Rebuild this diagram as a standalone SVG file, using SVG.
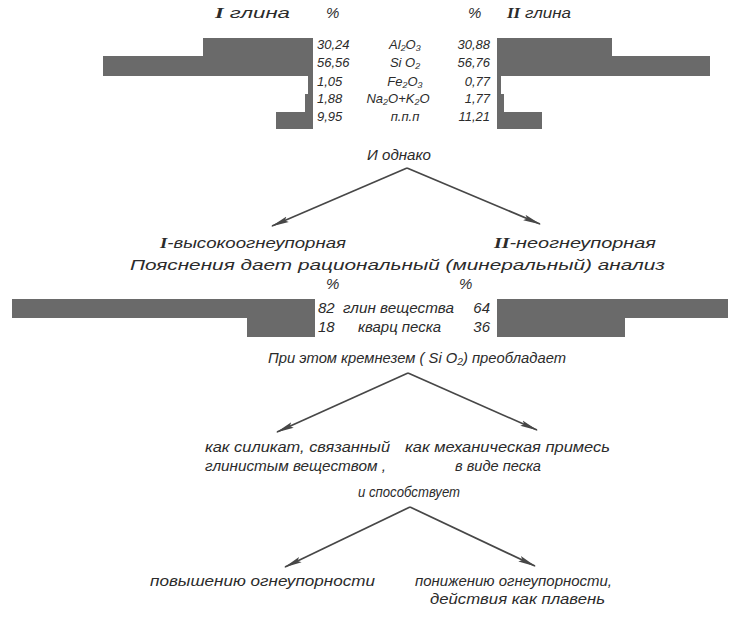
<svg xmlns="http://www.w3.org/2000/svg" width="734" height="619" viewBox="0 0 734 619">
<style>
text{font-family:"Liberation Sans","DejaVu Sans",sans-serif;font-style:italic;fill:#2b2b2b}
.t{font-size:15px}
.s{font-size:13px}
.f{font-size:13px}
.rn{font-family:"Liberation Serif",serif;font-weight:bold}
.bar{fill:#6a6a6a}
.c line{stroke:#474747;stroke-width:1.7}
</style>
<defs>
<marker id="ah" markerWidth="18" markerHeight="8" refX="17" refY="4" orient="auto" markerUnits="userSpaceOnUse">
<path d="M0,1 L18,4 L0,7 L3,4 z" fill="#474747"/>
</marker>
</defs>

<g id="header">
<text class="t" x="215" y="18" textLength="75" lengthAdjust="spacingAndGlyphs"><tspan class="rn">I</tspan> глина</text>
<text class="t" x="326" y="18">%</text>
<text class="t" x="468" y="18">%</text>
<text class="t" x="507" y="18" textLength="64" lengthAdjust="spacingAndGlyphs"><tspan class="rn">II</tspan> глина</text>
</g>

<g id="bars-top-left">
<rect class="bar" x="203" y="38" width="110" height="18"/>
<rect class="bar" x="103" y="56" width="210" height="20"/>
<rect class="bar" x="308" y="76" width="5" height="18"/>
<rect class="bar" x="305" y="94" width="8" height="18"/>
<rect class="bar" x="276" y="112" width="37" height="17"/>
</g>
<g id="bars-top-right">
<rect class="bar" x="497" y="38" width="115" height="18"/>
<rect class="bar" x="497" y="56" width="213" height="20"/>
<rect class="bar" x="497" y="76" width="4" height="18"/>
<rect class="bar" x="497" y="94" width="7" height="18"/>
<rect class="bar" x="497" y="112" width="45" height="17"/>
</g>

<g id="table-top">
<text class="s" x="317" y="49">30,24</text>
<text class="s" x="317" y="67">56,56</text>
<text class="s" x="317" y="86">1,05</text>
<text class="s" x="317" y="103">1,88</text>
<text class="s" x="317" y="121">9,95</text>
<g text-anchor="middle">
<text class="f" x="405" y="49">Al₂O₃</text>
<text class="f" x="405" y="67">Si O₂</text>
<text class="f" x="405" y="86">Fe₂O₃</text>
<text class="f" x="398" y="103">Na₂O+K₂O</text>
<text class="f" x="405" y="121">п.п.п</text>
</g>
<g text-anchor="end">
<text class="s" x="490" y="49">30,88</text>
<text class="s" x="490" y="67">56,76</text>
<text class="s" x="490" y="86">0,77</text>
<text class="s" x="490" y="103">1,77</text>
<text class="s" x="490" y="121">11,21</text>
</g>
</g>

<g id="n-odnako"><text class="t" x="367" y="160" textLength="64" lengthAdjust="spacingAndGlyphs">И однако</text></g>
<g id="n-high"><text class="t" x="160" y="248" textLength="186" lengthAdjust="spacingAndGlyphs"><tspan class="rn">I</tspan>-высокоогнеупорная</text></g>
<g id="n-non"><text class="t" x="494" y="248" textLength="162" lengthAdjust="spacingAndGlyphs"><tspan class="rn">II</tspan>-неогнеупорная</text></g>
<g id="n-expl"><text class="t" x="130" y="270" textLength="535" lengthAdjust="spacingAndGlyphs">Пояснения дает рациональный (минеральный) анализ</text></g>

<g id="bars-mid">
<rect class="bar" x="12" y="299" width="303" height="19"/>
<rect class="bar" x="247" y="318" width="68" height="19"/>
<rect class="bar" x="497" y="299" width="231" height="19"/>
<rect class="bar" x="497" y="318" width="128" height="19"/>
</g>
<g id="table-mid">
<text class="t" x="326" y="289">%</text>
<text class="t" x="459" y="289">%</text>
<text class="t" x="318" y="313">82</text>
<text class="t" x="343" y="313" textLength="111" lengthAdjust="spacingAndGlyphs">глин вещества</text>
<text class="t" x="490" y="313" text-anchor="end">64</text>
<text class="t" x="318" y="332">18</text>
<text class="t" x="358" y="332" textLength="83" lengthAdjust="spacingAndGlyphs">кварц песка</text>
<text class="t" x="490" y="332" text-anchor="end">36</text>
</g>

<g id="n-silica"><text class="t" x="268" y="363" textLength="298" lengthAdjust="spacingAndGlyphs">При этом кремнезем ( Si O₂) преобладает</text></g>
<g id="n-silicate">
<text class="t" x="205" y="452" textLength="185" lengthAdjust="spacingAndGlyphs">как силикат, связанный</text>
<text class="t" x="205" y="471" textLength="181" lengthAdjust="spacingAndGlyphs">глинистым веществом ,</text>
</g>
<g id="n-sand">
<text class="t" x="405" y="452" textLength="205" lengthAdjust="spacingAndGlyphs">как механическая примесь</text>
<text class="t" x="455" y="471" textLength="86" lengthAdjust="spacingAndGlyphs">в виде песка</text>
</g>
<g id="n-promotes"><text class="t" x="358" y="497" textLength="102" lengthAdjust="spacingAndGlyphs">и способствует</text></g>
<g id="n-raise"><text class="t" x="150" y="586" textLength="225" lengthAdjust="spacingAndGlyphs">повышению огнеупорности</text></g>
<g id="n-lower">
<text class="t" x="415" y="586" textLength="197" lengthAdjust="spacingAndGlyphs">понижению огнеупорности,</text>
<text class="t" x="430" y="604" textLength="175" lengthAdjust="spacingAndGlyphs">действия как плавень</text>
</g>

<g id="connectors" class="c">
<line x1="407" y1="168" x2="272" y2="226" marker-end="url(#ah)"/>
<line x1="407" y1="168" x2="540" y2="224" marker-end="url(#ah)"/>
<line x1="408" y1="373" x2="277" y2="432" marker-end="url(#ah)"/>
<line x1="408" y1="373" x2="537" y2="430" marker-end="url(#ah)"/>
<line x1="410" y1="507" x2="285" y2="567" marker-end="url(#ah)"/>
<line x1="410" y1="507" x2="535" y2="566" marker-end="url(#ah)"/>
</g>
</svg>
